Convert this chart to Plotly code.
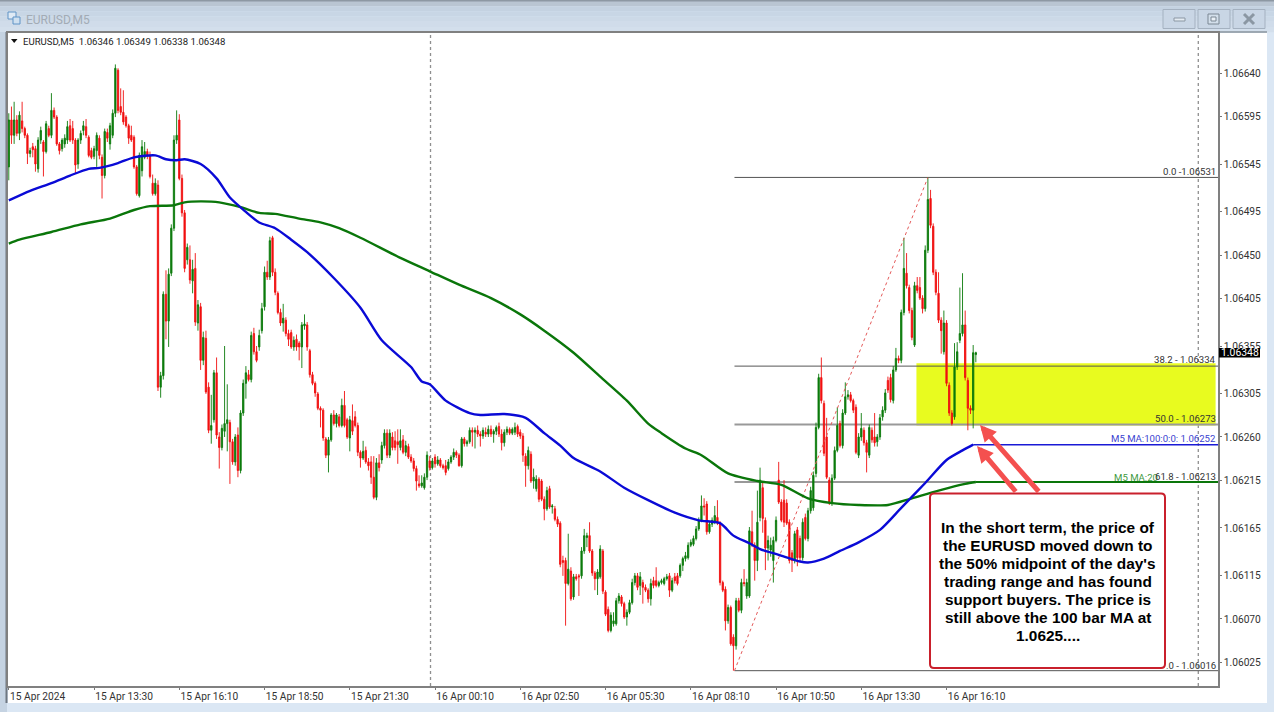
import plotly.graph_objects as go

# Prices as points above 1.00000 (6346 = 1.06346)
opens = [
6542,6591,6575,6591,6577,6590,6582,6575,6556,6563,
6561,6540,6570,6568,6558,6582,6575,6601,6594,6566,
6561,6566,6570,6585,6582,6570,6545,6570,6580,6584,
6573,6559,6553,6559,6572,6552,6533,6578,6566,6575,
6598,6643,6605,6599,6594,6585,6575,6573,6542,6512,
6538,6552,6558,6554,6525,6514,6523,6312,6324,6409,
6381,6431,6478,6570,6591,6530,6494,6445,6445,6423,
6436,6379,6396,6340,6363,6312,6267,6278,6327,6260,
6249,6266,6274,6275,6255,6234,6262,6225,6285,6316,
6325,6320,6368,6349,6354,6371,6396,6432,6427,6468,
6432,6410,6390,6379,6382,6368,6369,6354,6362,6358,
6354,6376,6377,6350,6325,6316,6305,6290,6288,6258,
6241,6257,6283,6274,6281,6272,6293,6278,6259,6277,
6281,6272,6244,6238,6246,6234,6234,6218,6197,6233,
6236,6251,6264,6241,6260,6256,6255,6249,6257,6244,
6250,6239,6235,6227,6211,6209,6207,6218,6235,6228,
6239,6232,6236,6230,6230,6227,6234,6239,6244,6241,
6230,6258,6253,6255,6267,6265,6267,6263,6261,6265,
6263,6268,6263,6266,6271,6263,6254,6265,6268,6264,
6265,6271,6265,6261,6240,6230,6242,6214,6206,6216,
6214,6195,6185,6206,6187,6185,6174,6170,6131,6131,
6107,6120,6093,6114,6115,6115,6141,6155,6157,6141,
6118,6112,6114,6141,6098,6080,6058,6065,6065,6089,
6093,6086,6072,6077,6087,6108,6115,6105,6108,6103,
6100,6091,6110,6110,6105,6108,6107,6112,6115,6100,
6114,6115,6115,6126,6133,6134,6147,6148,6154,6164,
6173,6188,6190,6161,6169,6171,6176,6170,6108,6101,
6068,6082,6051,6042,6089,6079,6108,6094,6094,6161,
6147,6131,6176,6207,6173,6144,6142,6131,6152,6215,
6192,6194,6191,6171,6139,6131,6163,6154,6134,6176,
6154,6183,6186,6222,6270,6322,6295,6260,6215,6191,
6217,6246,6274,6251,6285,6302,6304,6298,6291,6241,
6260,6267,6254,6241,6267,6260,6255,6260,6281,6288,
6319,6322,6298,6330,6342,6340,6390,6431,6416,6392,
6356,6418,6416,6405,6394,6455,6509,6480,6432,6410,
6382,6349,6379,6314,6285,6281,6333,6361,6368,6377,
6319,6290,6288,6346]
closes = [
6591,6575,6591,6577,6596,6582,6575,6556,6559,6560,
6545,6570,6580,6558,6587,6575,6601,6594,6566,6559,
6570,6572,6584,6570,6570,6544,6570,6577,6585,6575,
6554,6552,6561,6575,6554,6533,6579,6572,6585,6598,
6645,6601,6599,6589,6585,6572,6570,6542,6514,6554,
6563,6558,6554,6532,6514,6525,6312,6324,6409,6381,
6430,6478,6570,6575,6530,6494,6436,6458,6424,6435,
6380,6398,6340,6364,6307,6267,6272,6327,6262,6249,
6269,6274,6278,6255,6234,6260,6225,6285,6316,6327,
6320,6366,6349,6340,6366,6394,6432,6427,6465,6432,
6411,6390,6379,6384,6368,6362,6354,6361,6354,6354,
6377,6378,6354,6325,6316,6306,6290,6288,6259,6241,
6257,6283,6274,6283,6272,6293,6272,6260,6278,6266,
6272,6244,6238,6245,6234,6230,6218,6197,6233,6228,
6251,6264,6241,6264,6249,6249,6252,6256,6244,6251,
6239,6235,6227,6214,6209,6212,6218,6241,6228,6235,
6232,6236,6230,6228,6223,6234,6239,6244,6241,6230,
6258,6253,6255,6267,6265,6267,6263,6261,6267,6263,
6268,6263,6266,6270,6263,6254,6265,6268,6264,6268,
6270,6263,6261,6241,6230,6246,6214,6218,6216,6195,
6195,6185,6204,6187,6188,6174,6169,6127,6129,6107,
6122,6091,6114,6112,6114,6141,6157,6157,6141,6118,
6112,6119,6143,6099,6075,6058,6074,6068,6089,6094,
6086,6072,6077,6087,6108,6115,6103,6114,6103,6100,
6091,6107,6105,6105,6108,6110,6112,6114,6100,6110,
6110,6107,6126,6133,6136,6147,6150,6154,6164,6173,
6188,6187,6161,6169,6173,6178,6170,6108,6100,6068,
6082,6044,6042,6089,6079,6108,6107,6108,6162,6147,
6131,6171,6215,6175,6144,6152,6147,6152,6173,6192,
6173,6171,6170,6131,6131,6159,6134,6134,6171,6154,
6183,6204,6220,6270,6322,6298,6243,6218,6191,6217,
6246,6272,6251,6285,6302,6304,6298,6288,6244,6260,
6269,6254,6244,6270,6257,6254,6260,6280,6288,6306,
6309,6299,6330,6342,6340,6390,6436,6418,6392,6364,
6418,6413,6405,6394,6455,6508,6481,6432,6411,6382,
6371,6379,6316,6285,6274,6333,6349,6368,6377,6322,
6290,6288,6348,6348]
highs = [
6598,6605,6610,6596,6600,6610,6584,6577,6562,6567,
6564,6573,6584,6570,6590,6585,6619,6604,6596,6568,
6572,6576,6590,6592,6590,6572,6572,6580,6590,6592,
6575,6562,6564,6578,6575,6555,6582,6582,6588,6602,
6649,6645,6624,6622,6596,6587,6585,6575,6544,6557,
6570,6568,6561,6558,6534,6530,6528,6328,6412,6434,
6436,6482,6575,6601,6597,6534,6497,6462,6460,6445,
6452,6403,6400,6370,6371,6317,6304,6330,6343,6265,
6273,6355,6315,6278,6258,6263,6270,6288,6320,6334,
6330,6370,6374,6355,6372,6400,6438,6444,6469,6470,
6436,6412,6394,6399,6385,6372,6372,6365,6367,6360,
6380,6388,6380,6352,6328,6318,6307,6292,6290,6260,
6260,6285,6288,6285,6284,6300,6308,6280,6282,6294,
6287,6275,6246,6256,6250,6238,6240,6240,6238,6242,
6255,6268,6268,6268,6265,6266,6268,6268,6262,6256,
6253,6242,6238,6230,6220,6220,6222,6245,6240,6238,
6242,6240,6238,6232,6236,6237,6241,6248,6246,6243,
6260,6260,6257,6270,6270,6270,6272,6266,6270,6270,
6272,6272,6268,6272,6275,6268,6268,6271,6270,6270,
6275,6273,6268,6264,6243,6250,6245,6227,6220,6218,
6216,6198,6208,6209,6190,6188,6177,6172,6136,6134,
6159,6124,6117,6117,6117,6145,6164,6160,6171,6143,
6120,6122,6147,6143,6100,6083,6077,6077,6092,6097,
6095,6088,6080,6090,6112,6118,6118,6119,6111,6106,
6102,6112,6114,6124,6110,6112,6114,6117,6118,6113,
6118,6118,6128,6135,6140,6150,6153,6157,6167,6176,
6199,6196,6193,6172,6176,6188,6194,6172,6110,6104,
6085,6084,6054,6092,6092,6112,6122,6112,6166,6183,
6150,6204,6228,6212,6176,6157,6155,6156,6177,6234,
6195,6215,6195,6174,6142,6162,6166,6157,6175,6180,
6186,6208,6224,6275,6326,6343,6298,6280,6218,6221,
6250,6291,6277,6289,6317,6309,6307,6300,6294,6264,
6285,6270,6257,6273,6270,6285,6263,6284,6292,6310,
6323,6326,6334,6353,6345,6393,6468,6452,6419,6395,
6422,6427,6427,6408,6460,6531,6518,6483,6435,6432,
6385,6392,6382,6317,6288,6358,6359,6416,6431,6392,
6322,6293,6356,6349]
lows = [
6528,6566,6566,6574,6570,6578,6572,6545,6552,6552,
6537,6536,6566,6532,6556,6573,6572,6592,6564,6555,
6558,6562,6566,6568,6566,6535,6540,6566,6575,6572,
6552,6550,6550,6542,6550,6509,6530,6568,6560,6572,
6594,6598,6596,6586,6583,6566,6568,6540,6512,6510,
6532,6550,6550,6530,6512,6512,6308,6301,6320,6362,
6354,6428,6475,6566,6528,6490,6432,6440,6420,6410,
6376,6371,6330,6335,6305,6264,6253,6275,6258,6227,
6246,6260,6245,6211,6231,6230,6218,6222,6282,6300,
6318,6317,6346,6338,6350,6368,6392,6424,6424,6428,
6408,6388,6376,6370,6365,6355,6352,6350,6350,6340,
6332,6372,6350,6322,6314,6302,6288,6270,6256,6238,
6223,6255,6272,6270,6270,6270,6270,6258,6245,6262,
6270,6240,6228,6236,6232,6225,6211,6195,6194,6224,
6232,6248,6238,6238,6246,6246,6232,6246,6242,6240,
6237,6233,6224,6204,6207,6207,6205,6215,6225,6226,
6228,6230,6228,6226,6220,6225,6232,6236,6238,6229,
6228,6250,6250,6253,6250,6248,6260,6250,6258,6260,
6260,6260,6254,6262,6260,6246,6250,6262,6262,6262,
6262,6260,6258,6234,6208,6226,6212,6206,6203,6192,
6193,6173,6183,6185,6180,6172,6166,6124,6115,6063,
6105,6089,6090,6110,6094,6112,6138,6145,6139,6115,
6100,6095,6112,6096,6073,6056,6056,6062,6063,6086,
6083,6070,6063,6075,6085,6105,6100,6095,6086,6098,
6087,6084,6102,6103,6103,6106,6105,6110,6093,6098,
6107,6105,6113,6120,6130,6132,6145,6146,6152,6162,
6171,6178,6158,6159,6166,6169,6168,6105,6098,6058,
6065,6042,6016,6038,6077,6076,6104,6091,6092,6145,
6110,6120,6172,6160,6121,6131,6135,6108,6150,6190,
6171,6166,6168,6128,6119,6128,6125,6130,6131,6152,
6151,6180,6183,6218,6268,6295,6240,6216,6189,6188,
6215,6244,6249,6248,6283,6299,6296,6285,6242,6238,
6256,6251,6223,6238,6254,6250,6250,6257,6277,6285,
6306,6296,6295,6328,6337,6337,6387,6415,6389,6361,
6354,6410,6403,6389,6391,6452,6478,6429,6408,6379,
6347,6346,6313,6282,6272,6278,6330,6358,6365,6319,
6267,6284,6269,6338]

ma100_x = [0,8,16,23,30,34,41,47,55,59,63,66,72,78,83,89,94,100,106,112,122,132,140,151,155,158,
           164,173,177,186,194,201,207,212,222,231,240,250,259,267,272,278,282,289,297,300,306,
           312,319,327,335,344,352,358,362]
ma100 = [6507,6517,6525,6533,6540,6541,6546,6552,6554,6550,6549,6550,6545,6530,6510,6495,6484,6478,6466,6453,6426,6395,6361,6333,6318,6315,
         6298,6285,6283,6284,6280,6264,6251,6238,6224,6207,6194,6181,6173,6170,6157,6149,6143,6137,6130,6129,6133,
         6141,6150,6163,6186,6212,6236,6246,6252]
ma200_x = [0,4,16,27,38,47,53,62,66,72,79,87,94,100,109,117,124,132,147,158,169,181,192,201,212,222,232,240,245,254,260,270,281,290,300,309,319,330,339,349,359,363]
ma200 = [6462,6466,6474,6482,6488,6497,6501,6502,6505,6506,6505,6500,6494,6493,6488,6484,6478,6468,6447,6433,6419,6405,6388,6371,6348,6323,6298,6274,6264,6248,6241,6222,6214,6210,6196,6191,6189,6189,6196,6204,6211,6213]

ytick_vals = [6640,6595,6545,6495,6450,6405,6355,6305,6260,6215,6165,6115,6070,6025]
xtick_vals = [0,32,64,96,128,160,192,224,256,288,320,352]
xtick_text = ["15 Apr 2024","15 Apr 13:30","15 Apr 16:10","15 Apr 18:50","15 Apr 21:30","16 Apr 00:10",
              "16 Apr 02:50","16 Apr 05:30","16 Apr 08:10","16 Apr 10:50","16 Apr 13:30","16 Apr 16:10"]
fib_levels = [6531,6334,6273,6213,6016]
zone_top, zone_bottom = 6337, 6272
last_price = 6348
ma100_last = 6252
ma200_last = 6213
callout_lines = ["In the short term, the price of", "the EURUSD moved down to", "the 50% midpoint of the day's",
                 "trading range and has found", "support buyers. The price is", "still above the 100 bar MA at", "1.0625...."]

W, H = 1274, 712
XMAX = 453.9
def P(v): return 1 + v / 100000
def Ps(a): return [P(v) for v in a]
def fx(x): return x / W
def fy(y): return 1 - y / H

FONT = "Roboto"
LABEL = 9.6
shapes, ann = [], []
def rect(x0, y0, x1, y1, fill, line=None, lw=0, layer="below"):
    shapes.append(dict(type="rect", xref="paper", yref="paper", x0=fx(x0), x1=fx(x1), y0=fy(y0), y1=fy(y1),
                       fillcolor=fill, line=dict(color=line or fill, width=lw), layer=layer))
def seg(x0, y0, x1, y1, color, lw=1, layer="above"):
    shapes.append(dict(type="line", xref="paper", yref="paper", x0=fx(x0), x1=fx(x1), y0=fy(y0), y1=fy(y1),
                       line=dict(color=color, width=lw), layer=layer))
def note(x, y, text, color="#333333", size=LABEL, anchor="right", bg=None, font=FONT):
    ann.append(dict(xref="paper", yref="paper", x=fx(x), y=fy(y), text=text, showarrow=False, xanchor=anchor,
                    yanchor="middle", font=dict(family=font, size=size, color=color), bgcolor=bg, borderpad=0))

# window chrome
rect(0, 0, W, H, "#dbe7f4")
for k, c in enumerate(["#b9c5d2", "#c4d2e1", "#c8d6e5", "#ccd9e7", "#d0dcea", "#d3dfec"]):
    rect(0, 1 + k * 5.2, W, 1 + (k + 1) * 5.2, c)
rect(0, 0, W, 1.5, "#8d98a3")
rect(0, 32, 7, 712, "#c5d3e2")
rect(8, 33, 1267, 703, "#ffffff")
seg(6.5, 32, 6.5, 703, "#6f7780", 2, "below")
seg(6, 32, 1267, 32, "#8a949e", 1.5, "below")

# title icon
rect(8, 12, 16, 19, "#dfeaf5", "#5f93c6", 1, "above")
rect(13, 17, 20, 24, "#cfe0f0", "#5f93c6", 1, "above")
note(25, 20, "EURUSD,M5", "#a2abb5", 12, "left")

# window buttons
for x0, x1 in [(1163, 1195), (1198, 1230), (1233, 1265)]:
    rect(x0, 9.5, x1, 28.5, "#c9d6e5", "#a4b1c0", 1, "above")
rect(1174, 18, 1185, 21, "#e4ebf2", "#8b97a3", 1, "above")
rect(1208, 14, 1219, 24, "#d3dfeb", "#7b8793", 1, "above")
rect(1211, 17, 1216, 21, "#eaf0f6", "#7b8793", 1, "above")
seg(1244, 14, 1254, 24, "#8b97a3", 3)
seg(1254, 14, 1244, 24, "#8b97a3", 3)

# yellow zone
shapes.append(dict(type="rect", xref="x", yref="y", x0=340.7, x1=453, y0=P(zone_top), y1=P(zone_bottom),
                   fillcolor="#e8fb1f", line=dict(width=0), layer="below"))

# fibonacci levels
fib_style = [("#555555", 1), ("#555555", 1), ("#999999", 2), ("#999999", 2), ("#555555", 1)]
for lev, (c, w) in zip(fib_levels, fib_style):
    shapes.append(dict(type="line", xref="x", yref="y", x0=272.4, x1=XMAX, y0=P(lev), y1=P(lev),
                       line=dict(color=c, width=w), layer="below"))

# period separators
for xv in [158.3, 446.5]:
    shapes.append(dict(type="line", xref="x", yref="paper", x0=xv, x1=xv, y0=fy(686), y1=fy(33),
                       line=dict(color="#8f8f8f", width=1.3, dash="dot"), layer="below"))

# callout box
r = 4
x0, x1, y0, y1 = 930, 1165, 493.5, 668
path = (f"M {fx(x0+r)} {fy(y0)} L {fx(x1-r)} {fy(y0)} Q {fx(x1)} {fy(y0)} {fx(x1)} {fy(y0+r)} "
        f"L {fx(x1)} {fy(y1-r)} Q {fx(x1)} {fy(y1)} {fx(x1-r)} {fy(y1)} "
        f"L {fx(x0+r)} {fy(y1)} Q {fx(x0)} {fy(y1)} {fx(x0)} {fy(y1-r)} "
        f"L {fx(x0)} {fy(y0+r)} Q {fx(x0)} {fy(y0)} {fx(x0+r)} {fy(y0)} Z")
shapes.append(dict(type="path", xref="paper", yref="paper", path=path, fillcolor="#ffffff",
                   line=dict(color="#c9202c", width=2), layer="above"))

# arrows
for tx, ty, tailx, taily in [(980, 425, 1040, 493), (977, 446, 1017, 493)]:
    ann.append(dict(xref="paper", yref="paper", x=fx(tx), y=fy(ty), text="", showarrow=True, ax=tailx - tx, ay=taily - ty,
                    arrowhead=2, arrowsize=0.65, arrowwidth=5, arrowcolor="#f4504f", standoff=0))

# labels
note(1217, 171.5, "0.0 -1.06531")
note(1217, 359.5, "38.2 - 1.06334")
note(1217, 418.5, "50.0 - 1.06273")
note(1217, 438, "M5 MA:100:0:0: 1.06252", "#3a3fd0")
note(1113, 477, "M5 MA:20", "#3f9a3f", anchor="left")
note(1217, 476.5, "61.8 - 1.06213")
note(1217, 665, ".0 - 1.06016")
note(22, 41, "EURUSD,M5  1.06346 1.06349 1.06338 1.06348", "#222222", LABEL, "left")
shapes.append(dict(type="path", xref="paper", yref="paper",
                   path=f"M {fx(11)} {fy(39)} L {fx(17.5)} {fy(39)} L {fx(14.2)} {fy(43)} Z",
                   fillcolor="#111111", line=dict(width=0), layer="above"))
rect(1219, 348, 1260, 357.5, "#000000", layer="above")
note(1239.5, 352.7, "1.06348", "#ffffff", 10.4, "center")
for k, line in enumerate(callout_lines):
    note(1047.5, 527 + 18 * k, f"<b>{line}</b>", "#000000", 15.4, "center", font="Liberation Sans")

idx = list(range(len(closes)))
fig = go.Figure()
fig.add_trace(go.Scatter(x=[272.4, 345], y=[P(fib_levels[4]), P(fib_levels[0])], mode="lines",
                         line=dict(color="#e45a5a", width=1, dash="dot"), hoverinfo="skip"))
fig.add_trace(go.Candlestick(x=idx, open=Ps(opens), high=Ps(highs), low=Ps(lows), close=Ps(closes),
                             whiskerwidth=0,
                             increasing=dict(line=dict(color="#0b7a0b", width=0.9), fillcolor="#0b7a0b"),
                             decreasing=dict(line=dict(color="#f01010", width=0.9), fillcolor="#f01010")))
fig.add_trace(go.Scatter(x=ma200_x, y=Ps(ma200), mode="lines", line=dict(color="#0a760a", width=2.4, shape="spline", smoothing=0.7), hoverinfo="skip"))
fig.add_trace(go.Scatter(x=ma100_x, y=Ps(ma100), mode="lines", line=dict(color="#0a0ad6", width=2.4, shape="spline", smoothing=0.7), hoverinfo="skip"))
fig.add_trace(go.Scatter(x=[ma200_x[-1], XMAX], y=[P(ma200_last)] * 2, mode="lines", line=dict(color="#0a760a", width=2.2), hoverinfo="skip"))
fig.add_trace(go.Scatter(x=[ma100_x[-1], XMAX], y=[P(ma100_last)] * 2, mode="lines", line=dict(color="#1a1ad6", width=1.5), hoverinfo="skip"))

tickfont = dict(family=FONT, size=10.2, color="#333333")
fig.update_layout(
    width=W, height=H, margin=dict(l=0, r=0, t=0, b=0), autosize=False,
    paper_bgcolor="#ffffff", plot_bgcolor="rgba(0,0,0,0)", showlegend=False,
    shapes=shapes, annotations=ann, hovermode=False,
    font=dict(family=FONT, size=10, color="#333333"),
    xaxis=dict(domain=[fx(8), fx(1218)], range=[-0.3, XMAX], rangeslider=dict(visible=False),
               tickmode="array", tickvals=xtick_vals, ticktext=xtick_text, ticks="outside", ticklen=2,
               tickcolor="#777777", ticklabelposition="outside right", showgrid=False, zeroline=False,
               showline=True, mirror=True, linecolor="#808080", linewidth=1.5, tickfont=tickfont),
    yaxis=dict(domain=[fy(686), fy(33)], range=[P(6000), P(6681.8)], side="right",
               tickmode="array", tickvals=Ps(ytick_vals), ticktext=[f"{P(v):.5f}" for v in ytick_vals],
               ticks="outside", ticklen=2, tickcolor="#777777", showgrid=False, zeroline=False,
               showline=True, mirror=True, linecolor="#808080", linewidth=1.5, tickfont=tickfont),
)
fig.write_html("out.html", config=dict(displayModeBar=False),
               post_script="document.body.style.margin='0';document.body.style.overflow='hidden';")
